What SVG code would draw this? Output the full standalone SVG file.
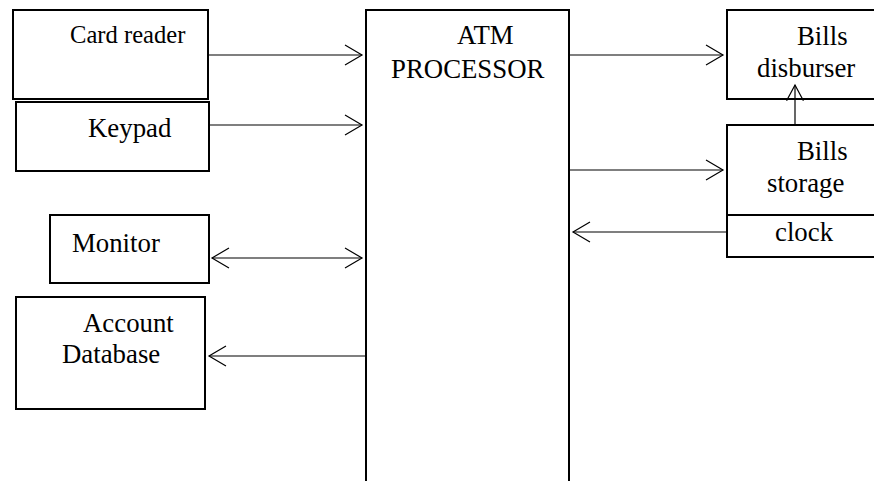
<svg xmlns="http://www.w3.org/2000/svg" width="874" height="481" viewBox="0 0 874 481">
<style>
.box{fill:#fff;stroke:#000;stroke-width:2}
.t{font-family:"Liberation Serif","Times New Roman",serif;font-size:26.8px;fill:#000}
.cn{stroke:#000;stroke-width:1.2;fill:none}
</style>
<defs>
<marker id="ah" markerUnits="userSpaceOnUse" markerWidth="20" markerHeight="24" viewBox="-18 -11 20 22" refX="0" refY="0" orient="auto-start-reverse">
<path d="M-17,-10 L0,0 L-17,10" fill="none" stroke="#000" stroke-width="1.2"/>
</marker>
<marker id="ahs" markerUnits="userSpaceOnUse" markerWidth="20" markerHeight="20" viewBox="-17 -9 19 18" refX="0" refY="0" orient="auto">
<path d="M-15,-8 L0,0 L-15,8" fill="none" stroke="#000" stroke-width="1.2"/>
</marker>
</defs>
<g id="card-reader"><rect class="box" x="13" y="10" width="195" height="89"/><text class="t" x="70" y="43" style="font-size:24.6px">Card reader</text></g>
<g id="keypad"><rect class="box" x="16" y="102" width="193" height="69"/><text class="t" x="88" y="137">Keypad</text></g>
<g id="monitor"><rect class="box" x="50" y="215" width="159" height="68"/><text class="t" x="72" y="252">Monitor</text></g>
<g id="account-database"><rect class="box" x="16" y="297" width="189" height="112"/><text class="t" x="83" y="332">Account</text><text class="t" x="62" y="363">Database</text></g>
<g id="atm-processor"><rect class="box" x="366" y="10" width="203" height="490"/><text class="t" x="457" y="44">ATM</text><text class="t" x="391" y="78">PROCESSOR</text></g>
<g id="bills-disburser"><rect class="box" x="727" y="10" width="150" height="89"/><text class="t" x="797" y="45">Bills</text><text class="t" x="757" y="77">disburser</text></g>
<g id="bills-storage"><rect class="box" x="727" y="125" width="150" height="132"/><line class="box" x1="727" y1="215" x2="877" y2="215"/><text class="t" x="797" y="160">Bills</text><text class="t" x="767" y="192">storage</text><text class="t" x="775" y="241">clock</text></g>
<g id="connectors">
<line class="cn" x1="208" y1="55" x2="362" y2="55" marker-end="url(#ah)"/>
<line class="cn" x1="209" y1="125" x2="362" y2="125" marker-end="url(#ah)"/>
<line class="cn" x1="212" y1="258" x2="362" y2="258" marker-start="url(#ah)" marker-end="url(#ah)"/>
<line class="cn" x1="365" y1="356" x2="209" y2="356" marker-end="url(#ah)"/>
<line class="cn" x1="569" y1="55" x2="723" y2="55" marker-end="url(#ah)"/>
<line class="cn" x1="569" y1="170" x2="723" y2="170" marker-end="url(#ah)"/>
<line class="cn" x1="727" y1="232" x2="573" y2="232" marker-end="url(#ah)"/>
<line class="cn" x1="795" y1="125" x2="795" y2="85" marker-end="url(#ahs)"/>
</g>
</svg>
